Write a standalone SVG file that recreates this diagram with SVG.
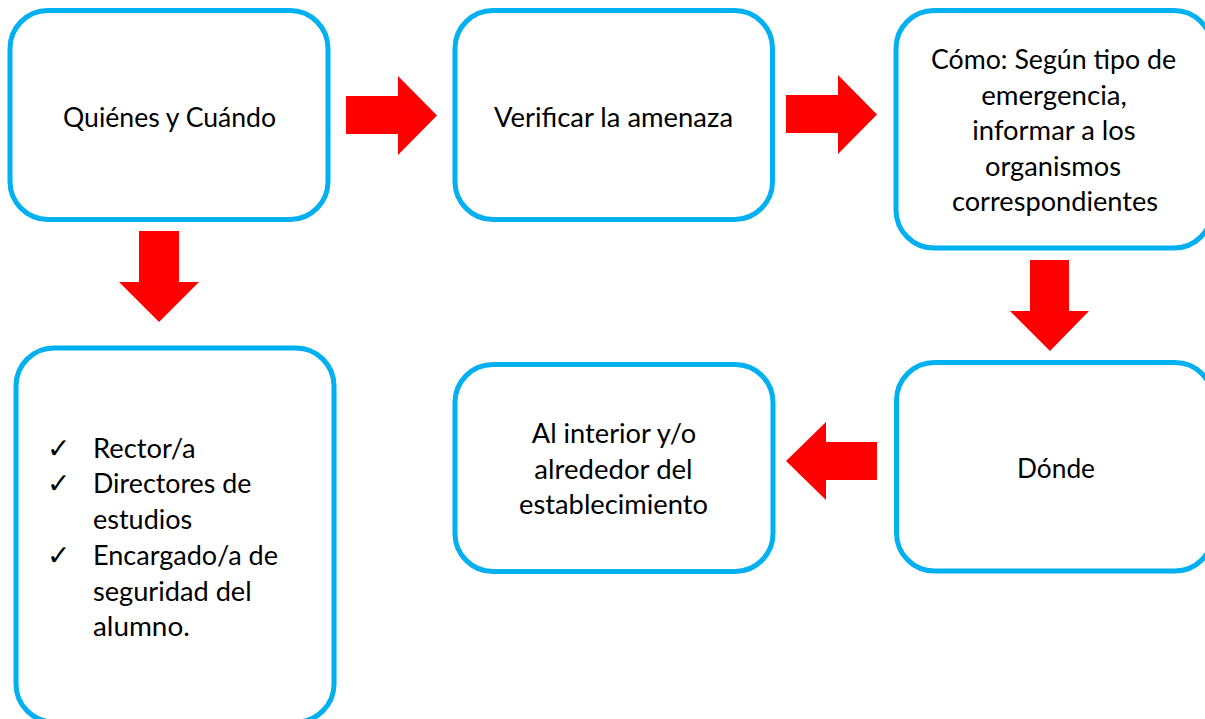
<svg xmlns="http://www.w3.org/2000/svg" width="1205" height="719" viewBox="0 0 1205 719">
<style>
.box{fill:#FFFFFF;stroke:#00B0F0;stroke-width:5}
.t{font-family:Lato,"Liberation Sans",sans-serif;font-size:27px;fill:#000000}
.c{text-anchor:middle}
.chk{font-family:"DejaVu Sans",sans-serif;font-size:28px;fill:#000000}
.arr{fill:#FF0000}
</style>
<rect width="1205" height="719" fill="#FFFFFF"/>
<g id="connectors">
<polygon class="arr" points="346,96 398,96 398,76 437,115.5 398,155 398,134 346,134"/>
<polygon class="arr" points="786,95 838,95 838,75 877,114.5 838,154 838,133 786,133"/>
<polygon class="arr" points="139,231 179,231 179,282 199,282 159,322 119,282 139,282"/>
<polygon class="arr" points="1030,260 1069,260 1069,311 1089,311 1050,351 1010,311 1030,311"/>
<polygon class="arr" points="877,442 826,442 826,422 786,461 826,500 826,480 877,480"/>
</g>
<g id="quienes">
<rect class="box" x="10" y="10.5" width="318" height="209" rx="38" ry="38"/>
<text class="t c" x="169.5" y="127" textLength="213" lengthAdjust="spacingAndGlyphs">Quiénes y Cuándo</text>
</g>
<g id="verificar">
<rect class="box" x="455" y="10.5" width="317.5" height="209" rx="38" ry="38"/>
<text class="t c" x="613.5" y="127" textLength="239" lengthAdjust="spacingAndGlyphs">Verificar la amenaza</text>
</g>
<g id="como">
<rect class="box" x="896" y="10.5" width="316" height="237.5" rx="38" ry="38"/>
<text class="t c" x="1053.5" y="69" textLength="245" lengthAdjust="spacingAndGlyphs">Cómo: Según tipo de</text>
<text class="t c" x="1054" y="104.5" textLength="145.5" lengthAdjust="spacingAndGlyphs">emergencia,</text>
<text class="t c" x="1054" y="140" textLength="163.5" lengthAdjust="spacingAndGlyphs">informar a los</text>
<text class="t c" x="1053" y="175.5" textLength="136" lengthAdjust="spacingAndGlyphs">organismos</text>
<text class="t c" x="1055" y="211" textLength="206" lengthAdjust="spacingAndGlyphs">correspondientes</text>
</g>
<g id="quienes-lista">
<rect class="box" x="16" y="348" width="318" height="374" rx="38" ry="38"/>
<text class="chk" x="47" y="458">✓</text>
<text class="chk" x="47" y="493">✓</text>
<text class="chk" x="47" y="565">✓</text>
<text class="t" x="93" y="458" textLength="102.6" lengthAdjust="spacingAndGlyphs">Rector/a</text>
<text class="t" x="93" y="493" textLength="158.4" lengthAdjust="spacingAndGlyphs">Directores de</text>
<text class="t" x="93" y="529" textLength="99.2" lengthAdjust="spacingAndGlyphs">estudios</text>
<text class="t" x="93" y="565" textLength="185" lengthAdjust="spacingAndGlyphs">Encargado/a de</text>
<text class="t" x="93" y="601" textLength="158.6" lengthAdjust="spacingAndGlyphs">seguridad del</text>
<text class="t" x="93" y="636" textLength="96.8" lengthAdjust="spacingAndGlyphs">alumno.</text>
</g>
<g id="al-interior">
<rect class="box" x="455" y="364.5" width="318" height="207" rx="38" ry="38"/>
<text class="t c" x="614" y="443" textLength="164.3" lengthAdjust="spacingAndGlyphs">Al interior y/o</text>
<text class="t c" x="613.5" y="478.5" textLength="158.3" lengthAdjust="spacingAndGlyphs">alrededor del</text>
<text class="t c" x="613.5" y="514" textLength="189" lengthAdjust="spacingAndGlyphs">establecimiento</text>
</g>
<g id="donde">
<rect class="box" x="896.5" y="362.5" width="316.5" height="208.5" rx="38" ry="38"/>
<text class="t c" x="1056" y="478" textLength="78" lengthAdjust="spacingAndGlyphs">Dónde</text>
</g>
</svg>
